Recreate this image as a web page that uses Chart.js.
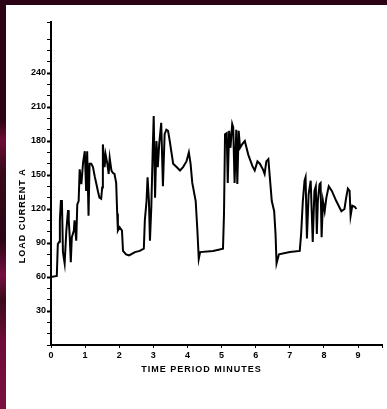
<!DOCTYPE html>
<html>
<head>
<meta charset="utf-8">
<script src="https://cdn.jsdelivr.net/npm/chart.js@4/dist/chart.umd.min.js"></script>
<style>
  html, body { margin: 0; padding: 0; }
  body {
    width: 387px; height: 409px; overflow: hidden; position: relative;
    background: linear-gradient(to bottom, #2a0414 0px, #2a0414 120px, #6e0c36 140px, #3a0a1c 170px, #2a0414 240px, #741040 275px, #3a0a1c 300px, #6e0c36 340px, #7a1040 409px);
  }
  #wrap { position: absolute; left: 6px; top: 5px; width: 381px; height: 404px; background: #ffffff; }
  canvas { display: block; }
</style>
</head>
<body>
<div id="wrap"><canvas id="c" width="381" height="404"></canvas></div>
<script>
// Time (minutes) and load current (A)
const timeMinutes = [
  0.00, 0.17, 0.20, 0.24, 0.26, 0.29, 0.32, 0.35, 0.40, 0.45,
  0.50, 0.52, 0.55, 0.58, 0.61, 0.67, 0.69, 0.74, 0.77, 0.81,
  0.84, 0.89, 0.94, 0.99, 1.03, 1.06, 1.10, 1.13, 1.18, 1.23,
  1.28, 1.33, 1.38, 1.42, 1.47, 1.50, 1.52, 1.57, 1.60, 1.65,
  1.69, 1.72, 1.77, 1.81, 1.86, 1.91, 1.94, 1.96, 2.01, 2.08,
  2.11, 2.20, 2.29, 2.46, 2.60, 2.72, 2.75, 2.80, 2.83, 2.87,
  2.90, 2.94, 2.98, 3.01, 3.05, 3.09, 3.13, 3.17, 3.23, 3.28,
  3.33, 3.38, 3.43, 3.48, 3.53, 3.58, 3.68, 3.78, 3.87, 3.97,
  4.04, 4.09, 4.14, 4.24, 4.29, 4.33, 4.37, 4.75, 5.04, 5.07,
  5.10, 5.15, 5.18, 5.22, 5.26, 5.31, 5.34, 5.38, 5.43, 5.46,
  5.50, 5.54, 5.60, 5.68, 5.78, 5.90, 5.97, 6.05, 6.12, 6.21,
  6.26, 6.31, 6.37, 6.41, 6.47, 6.54, 6.58, 6.61, 6.68, 7.00,
  7.29, 7.33, 7.38, 7.43, 7.46, 7.50, 7.55, 7.61, 7.67, 7.72,
  7.76, 7.79, 7.82, 7.87, 7.90, 7.93, 7.97, 8.02, 8.07, 8.14,
  8.23, 8.36, 8.51, 8.60, 8.65, 8.70, 8.75, 8.78, 8.83, 8.90,
  8.95
];
const loadCurrent = [
  60, 61, 89, 91, 110, 127, 127, 82, 72, 101,
  119, 110, 95, 73, 95, 101, 110, 92, 124, 127,
  155, 142, 161, 171, 136, 171, 114, 160, 160, 157,
  149, 142, 135, 130, 129, 139, 177, 157, 168, 160,
  151, 165, 154, 152, 151, 143, 116, 101, 104, 101,
  83, 80, 79, 82, 83, 85, 110, 127, 148, 127,
  92, 122, 171, 202, 130, 180, 157, 177, 196, 140,
  186, 190, 189, 180, 170, 160, 157, 154, 157, 162,
  170, 160, 143, 127, 101, 76, 82, 83, 85, 116,
  186, 187, 143, 189, 174, 195, 192, 143, 190, 142,
  189, 174, 177, 180, 168, 158, 154, 162, 160, 155,
  151, 162, 164, 149, 127, 118, 98, 72, 80, 82,
  83, 98, 127, 145, 148, 94, 133, 145, 91, 136,
  140, 98, 127, 142, 143, 95, 127, 118, 130, 140,
  136, 127, 118, 120, 130, 138, 136, 114, 123, 122,
  120
];
const xTickLabels = ['0','1','2','3','4','5','6','7','8','9'];
const yTickLabels = [30, 60, 90, 120, 150, 180, 210, 240];
const xTitle = 'TIME PERIOD MINUTES';
const yTitle = 'LOAD CURRENT A';

const points = timeMinutes.map((t, i) => ({ x: t, y: loadCurrent[i] }));
const FONT = '"Liberation Sans", "DejaVu Sans", sans-serif';

const titlePlugin = {
  id: 'axisTitles',
  afterDraw(chart) {
    const ctx = chart.ctx;
    const a = chart.chartArea;
    ctx.save();
    ctx.fillStyle = '#000';
    ctx.font = 'bold 9px ' + FONT;
    ctx.textAlign = 'center';
    ctx.textBaseline = 'middle';
    if ('letterSpacing' in ctx) ctx.letterSpacing = '1px';
    // x title
    ctx.fillText(xTitle, a.left + (a.right - a.left) * 0.455, a.bottom + 25);
    // y title
    ctx.translate(17, a.top + (a.bottom - a.top) * 0.6);
    ctx.rotate(-Math.PI / 2);
    ctx.fillText(yTitle, 0, 0);
    ctx.restore();
  }
};

new Chart(document.getElementById('c'), {
  type: 'line',
  data: {
    datasets: [{
      data: points,
      borderColor: '#000',
      borderWidth: 2,
      pointRadius: 0,
      tension: 0,
      fill: false
    }]
  },
  options: {
    responsive: false,
    animation: false,
    devicePixelRatio: 1,
    layout: { padding: { top: 17, right: 5, left: 0, bottom: 0 } },
    plugins: { legend: { display: false }, tooltip: { enabled: false } },
    scales: {
      x: {
        type: 'linear',
        min: 0,
        max: 9.7,
        afterFit(s) { s.height = 64; },
        border: { display: true, color: '#000', width: 2 },
        grid: { drawOnChartArea: false, drawTicks: true, tickLength: 3, color: '#000', tickWidth: 1 },
        ticks: {
          stepSize: 1,
          padding: 2,
          maxRotation: 0,
          autoSkip: false,
          color: '#000',
          font: { family: FONT, size: 9, weight: 'bold' },
          callback: (v) => {
            const i = xTickLabels.indexOf(String(v));
            return i >= 0 ? xTickLabels[i] : '';
          }
        }
      },
      y: {
        type: 'linear',
        min: 0,
        max: 285,
        afterFit(s) { s.width = 45; },
        border: { display: true, color: '#000', width: 2 },
        grid: {
          drawOnChartArea: false, drawTicks: true, tickLength: 4, color: '#000',
          tickWidth: (c) => (c.tick && yTickLabels.includes(c.tick.value)) ? 2 : 1
        },
        ticks: {
          stepSize: 10,
          padding: 1,
          autoSkip: false,
          color: '#000',
          font: { family: FONT, size: 9, weight: 'bold' },
          callback: (v) => yTickLabels.includes(v) ? String(v) : ''
        }
      }
    }
  },
  plugins: [titlePlugin]
});
</script>
</body>
</html>
